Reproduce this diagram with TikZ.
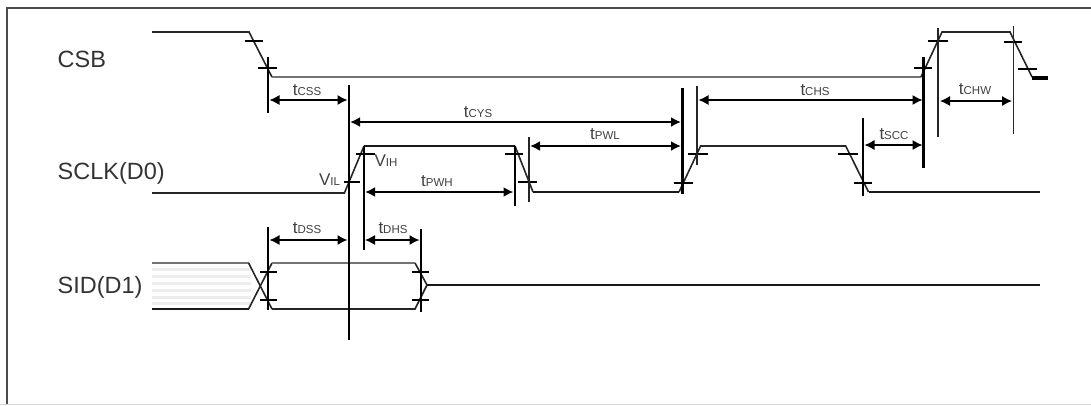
\documentclass[tikz,border=0pt]{standalone}
\usepackage{fontspec}
\setmainfont{Liberation Sans}
\usetikzlibrary{arrows.meta}
\newcommand{\tmlabel}[2]{{\fontsize{17}{16}\selectfont #1}{\fontsize{11.5}{12}\selectfont #2}}
\tikzset{
	wave/.style={line width=1.6pt, color=black!85},
	wavegray/.style={line width=2.4pt, color=black!55},
	wavebold/.style={line width=2.5pt, color=black!90},
	guide/.style={line width=2.6pt, color=black},
	guidethin/.style={line width=1.2pt, color=black!85},
	dimthin/.style={line width=1.2pt, {Latex[length=10pt,width=10pt]}-{Latex[length=10pt,width=10pt]}},
	dimbold/.style={line width=2.2pt, {Latex[length=10pt,width=10pt]}-{Latex[length=10pt,width=10pt]}},
	tmtext/.style={inner sep=0pt, color=black!75},
	signame/.style={inner sep=0pt, anchor=west, color=black!80, font=\fontsize{23.5}{24}\selectfont},
}
\begin{document}
\begin{tikzpicture}[x=1pt, y=-1pt]
	\useasboundingbox (0,0) rectangle (1091,405);

	% frame
	\draw[line width=1.4pt, color=black!70] (7,405) -- (7,8) -- (1091,8);
	\draw[line width=1pt, color=black!15] (0,404.5) -- (1091,404.5);

	% signal names
	\node[signame] (csb) at (57.5,59) {CSB};
	\node[signame] (sclk) at (57.5,173) {SCLK(D0)};
	\node[signame] (sid) at (57.5,287) {SID(D1)};

	% striped part of SID
	\foreach \y in {269,276,283,290,297,303}
		\draw[line width=3pt, color=black!7] (152,\y) -- (251,\y);

	% waveforms
	\draw[wave] (152,32) -- (249,32) -- (272,77);
	\draw[wavegray] (272,77) -- (921,77);
	\draw[wave] (921,77) -- (942,32) -- (1010,32) -- (1032,77);
	\draw[line width=3.5pt] (1032,78) -- (1048,78);

	\draw[wave] (152,193) -- (344.4,193) -- (364,146);
	\draw[wavebold] (364,146) -- (515,146);
	\draw[wave] (515,146) -- (533,192);
	\draw[wavebold] (533,192) -- (679,192);
	\draw[wave] (679,192) -- (700.6,146) -- (845.7,146) -- (868.5,192);
	\draw[wavebold] (868.5,192) -- (1040,192);

	\draw[wavegray, line width=2pt] (152,263) -- (248.6,263);
	\draw[wave] (248.6,263) -- (272,309);
	\draw[wavebold, line width=1.8pt] (152,309) -- (248.6,309);
	\draw[wave] (248.6,309) -- (272,263);
	\draw[wavegray, line width=2pt] (272,263) -- (415,263);
	\draw[wave] (272,309) -- (415,309) -- (427,285) -- (415,263);
	\draw[wavebold] (427,285) -- (1040,285);

	% level marks
	\foreach \xa/\xb/\y in {258/276.5/68, 344.4/360/182, 518/537/182, 673.5/693/183, 854/872/183,
			913.5/932/68, 1004/1022.4/42, 260/276.5/272, 412/428.7/272}
		\draw[line width=1.2pt] (\xa,\y) -- (\xb,\y);
	\foreach \xa/\xb/\y in {244.5/263.4/41, 356.4/375/154, 504.5/523.4/154, 687.6/708/154, 838/858/154,
			927.5/947.6/41, 1018/1036.5/69, 260/276.5/300, 412/428.7/300}
		\draw[line width=2.6pt] (\xa,\y) -- (\xb,\y);

	% guide lines
	\draw[guide] (268,57) -- (268,113);
	\draw[guide] (268,227) -- (268,310);
	\draw[guide] (348.8,85) -- (348.8,340);
	\draw[guide] (364,146) -- (364,250);
	\draw[guide] (420.8,229) -- (420.8,312);
	\draw[guide] (514.8,146) -- (514.8,206);
	\draw[guide] (682.3,88) -- (682.3,194);
	\draw[guide] (863,118) -- (863,196);
	\draw[guide] (923.7,57) -- (923.7,168);
	\draw[guidethin] (529,137) -- (529,202);
	\draw[guidethin] (697,86) -- (697,165);
	\draw[guidethin] (938,28) -- (938,137);
	\draw[guidethin] (1013.3,26) -- (1013.3,134);

	% timing arrows
	\coordinate (cssA) at (269.5,100);
	\coordinate (cssB) at (347.5,100);
	\coordinate (cysA) at (350,122);
	\coordinate (cysB) at (681,122);
	\coordinate (pwlA) at (530,146);
	\coordinate (pwlB) at (681,146);
	\coordinate (pwhA) at (365,192);
	\coordinate (pwhB) at (513.5,192);
	\coordinate (dssA) at (269.5,240);
	\coordinate (dssB) at (347.5,240);
	\coordinate (dhsA) at (365,240);
	\coordinate (dhsB) at (419.5,240);
	\coordinate (chsA) at (698.5,100);
	\coordinate (chsB) at (922.5,100);
	\coordinate (sccA) at (864.5,145);
	\coordinate (sccB) at (922.5,145);
	\coordinate (chwA) at (940,101);
	\coordinate (chwB) at (1012,101);

	\draw[dimthin] (cssA) -- (cssB);
	\draw[dimbold] (cysA) -- (cysB);
	\draw[dimbold] (pwlA) -- (pwlB);
	\draw[dimbold] (pwhA) -- (pwhB);
	\draw[dimthin] (dssA) -- (dssB);
	\draw[dimthin] (dhsA) -- (dhsB);
	\draw[dimthin] (chsA) -- (chsB);
	\draw[dimthin] (sccA) -- (sccB);
	\draw[dimthin] (chwA) -- (chwB);

	% timing names
	\node[tmtext] (tcss) at (307,90) {\tmlabel{t}{CSS}};
	\node[tmtext] (tcys) at (478,112) {\tmlabel{t}{CYS}};
	\node[tmtext] (tpwl) at (605,134) {\tmlabel{t}{PWL}};
	\node[tmtext] (tpwh) at (437,181) {\tmlabel{t}{PWH}};
	\node[tmtext] (tdss) at (307,228) {\tmlabel{t}{DSS}};
	\node[tmtext] (tdhs) at (393,228) {\tmlabel{t}{DHS}};
	\node[tmtext] (tchs) at (815,90) {\tmlabel{t}{CHS}};
	\node[tmtext] (tscc) at (894,134) {\tmlabel{t}{SCC}};
	\node[tmtext] (tchw) at (975,89) {\tmlabel{t}{CHW}};
	\node[tmtext] (vil) at (329.5,180) {\tmlabel{V}{IL}};
	\node[tmtext] (vih) at (386,161) {\tmlabel{V}{IH}};
\end{tikzpicture}
\end{document}
